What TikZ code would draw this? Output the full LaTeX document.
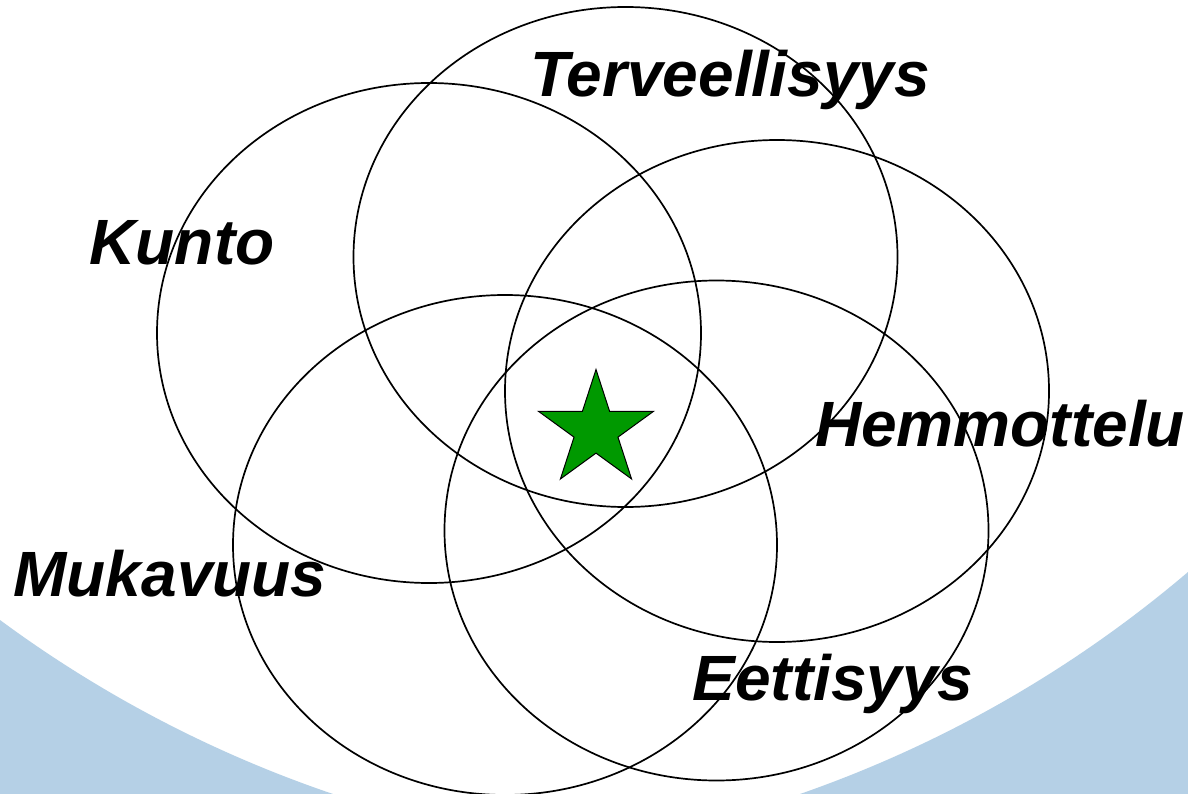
\documentclass[tikz,border=0pt]{standalone}
\usepackage{fontspec}
\setmainfont{Liberation Sans}
\usetikzlibrary{shapes.geometric}
\definecolor{bgblue}{RGB}{181,208,230}
\definecolor{stargreen}{RGB}{0,153,0}
\begin{document}
\begin{tikzpicture}[x=1pt,y=-1pt,
  ring/.style={draw=black,line width=1.7pt},
  label/.style={font=\fontsize{64}{64}\selectfont\bfseries\itshape,inner sep=0pt,anchor=base}]
\useasboundingbox (0,0) rectangle (1188,794);
\fill[white] (0,0) rectangle (1188,794);
% light blue corners of the background
\fill[bgblue] (0,794) -- (0,620) .. controls (101.1,694.7) and (213.9,753.6) .. (333,794) -- cycle;
\fill[bgblue] (1188,794) -- (1188,572) .. controls (1073.2,669.7) and (942.3,744.4) .. (800,794) -- cycle;
% five overlapping ellipses
\draw[ring] (429,333) ellipse [x radius=272pt, y radius=250pt];
\draw[ring] (625.5,257) ellipse [x radius=272pt, y radius=250pt];
\draw[ring] (777,391) ellipse [x radius=272pt, y radius=251pt];
\draw[ring] (505,545) ellipse [x radius=272pt, y radius=250pt];
\draw[ring] (716.5,530.5) ellipse [x radius=272pt, y radius=250pt];
% star
\node[star,star points=5,star point ratio=2.618,minimum size=121pt,inner sep=0pt,
      fill=stargreen,draw=black,line width=1pt] (st) at (596,430) {};
% labels
\node[label] (terv) at (730,97) {Terveellisyys};
\node[label] (kunto) at (182,265) {Kunto};
\node[label] (hemm) at (1000,446) {Hemmottelu};
\node[label] (muk) at (170,596) {Mukavuus};
\node[label] (eett) at (833,700) {Eettisyys};
\end{tikzpicture}
\end{document}
